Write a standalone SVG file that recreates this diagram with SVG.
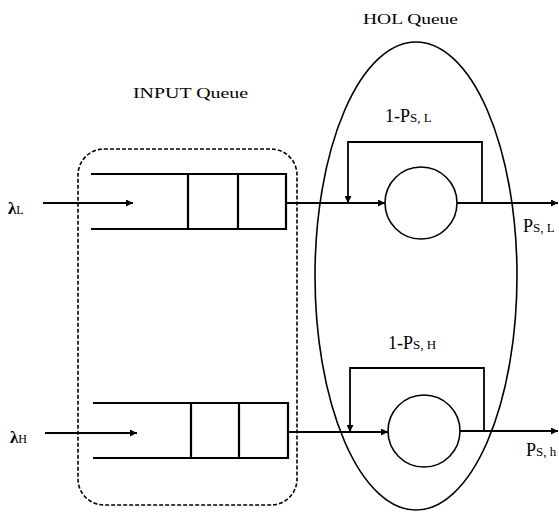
<svg xmlns="http://www.w3.org/2000/svg" width="559" height="512" viewBox="0 0 559 512">
<defs>
<marker id="ah" viewBox="0 0 10 10" refX="10" refY="5" markerWidth="9" markerHeight="7" markerUnits="userSpaceOnUse" orient="auto"><path d="M0,0 L10,5 L0,10 z" fill="#000"/></marker>
</defs>
<style>
.t{font-family:"Liberation Serif","DejaVu Serif",serif;fill:#000}
.l{fill:none;stroke:#000;stroke-width:1.8}
.q{fill:none;stroke:#000;stroke-width:2.2}
.w{fill:none;stroke:#000;stroke-width:1.6}
</style>
<rect width="559" height="512" fill="#fff"/>
<g id="input-queue">
<rect x="78" y="149" width="219" height="356" rx="26" ry="26" fill="none" stroke="#000" stroke-width="1.6" stroke-dasharray="4,2"/>
<text class="t" x="133" y="98" font-size="15" textLength="115" lengthAdjust="spacingAndGlyphs">INPUT  Queue</text>
</g>
<g id="hol-queue">
<ellipse cx="416" cy="276" rx="101" ry="234" class="w"/>
<text class="t" x="363" y="24" font-size="15" textLength="95" lengthAdjust="spacingAndGlyphs">HOL  Queue</text>
</g>
<g id="queue-L">
<path class="q" d="M91,174 H286 V229 H91 M188,174 V229 M238,174 V229"/>
</g>
<g id="queue-H">
<path class="q" d="M93,403 H288 V458 H93 M191,403 V458 M239,403 V458"/>
</g>
<g id="server-L">
<circle cx="421" cy="203" r="36" class="w" stroke-width="1.8"/>
</g>
<g id="server-H">
<circle cx="424" cy="431" r="36" class="w" stroke-width="1.8"/>
</g>
<g id="labels">
<text class="t" x="8" y="214" font-size="17" font-weight="bold">λ<tspan font-size="12" font-weight="normal">L</tspan></text>
<text class="t" x="10" y="443" font-size="17" font-weight="bold">λ<tspan font-size="12" font-weight="normal">H</tspan></text>
<text class="t" x="385" y="122" font-size="18">1-P<tspan font-size="13">S, L</tspan></text>
<text class="t" x="388" y="349" font-size="18">1-P<tspan font-size="13">S, H</tspan></text>
<text class="t" x="523" y="232" font-size="18">P<tspan font-size="13">S, L</tspan></text>
<text class="t" x="526" y="456" font-size="18">P<tspan font-size="13">S, h</tspan></text>
</g>
<g id="connectors">
<line class="l" x1="43" y1="203" x2="133" y2="203" marker-end="url(#ah)"/>
<line class="l" x1="45" y1="433" x2="137" y2="433" marker-end="url(#ah)"/>
<line class="l" x1="286" y1="203" x2="385" y2="203" marker-end="url(#ah)"/>
<line class="l" x1="288" y1="432" x2="388" y2="432" marker-end="url(#ah)"/>
<line class="l" x1="457" y1="203" x2="558" y2="203" marker-end="url(#ah)"/>
<line class="l" x1="460" y1="431" x2="558" y2="431" marker-end="url(#ah)"/>
<path class="l" d="M482,203 V142 H348 V203" marker-end="url(#ah)"/>
<path class="l" d="M484,431 V368 H350 V432" marker-end="url(#ah)"/>
</g>
</svg>
